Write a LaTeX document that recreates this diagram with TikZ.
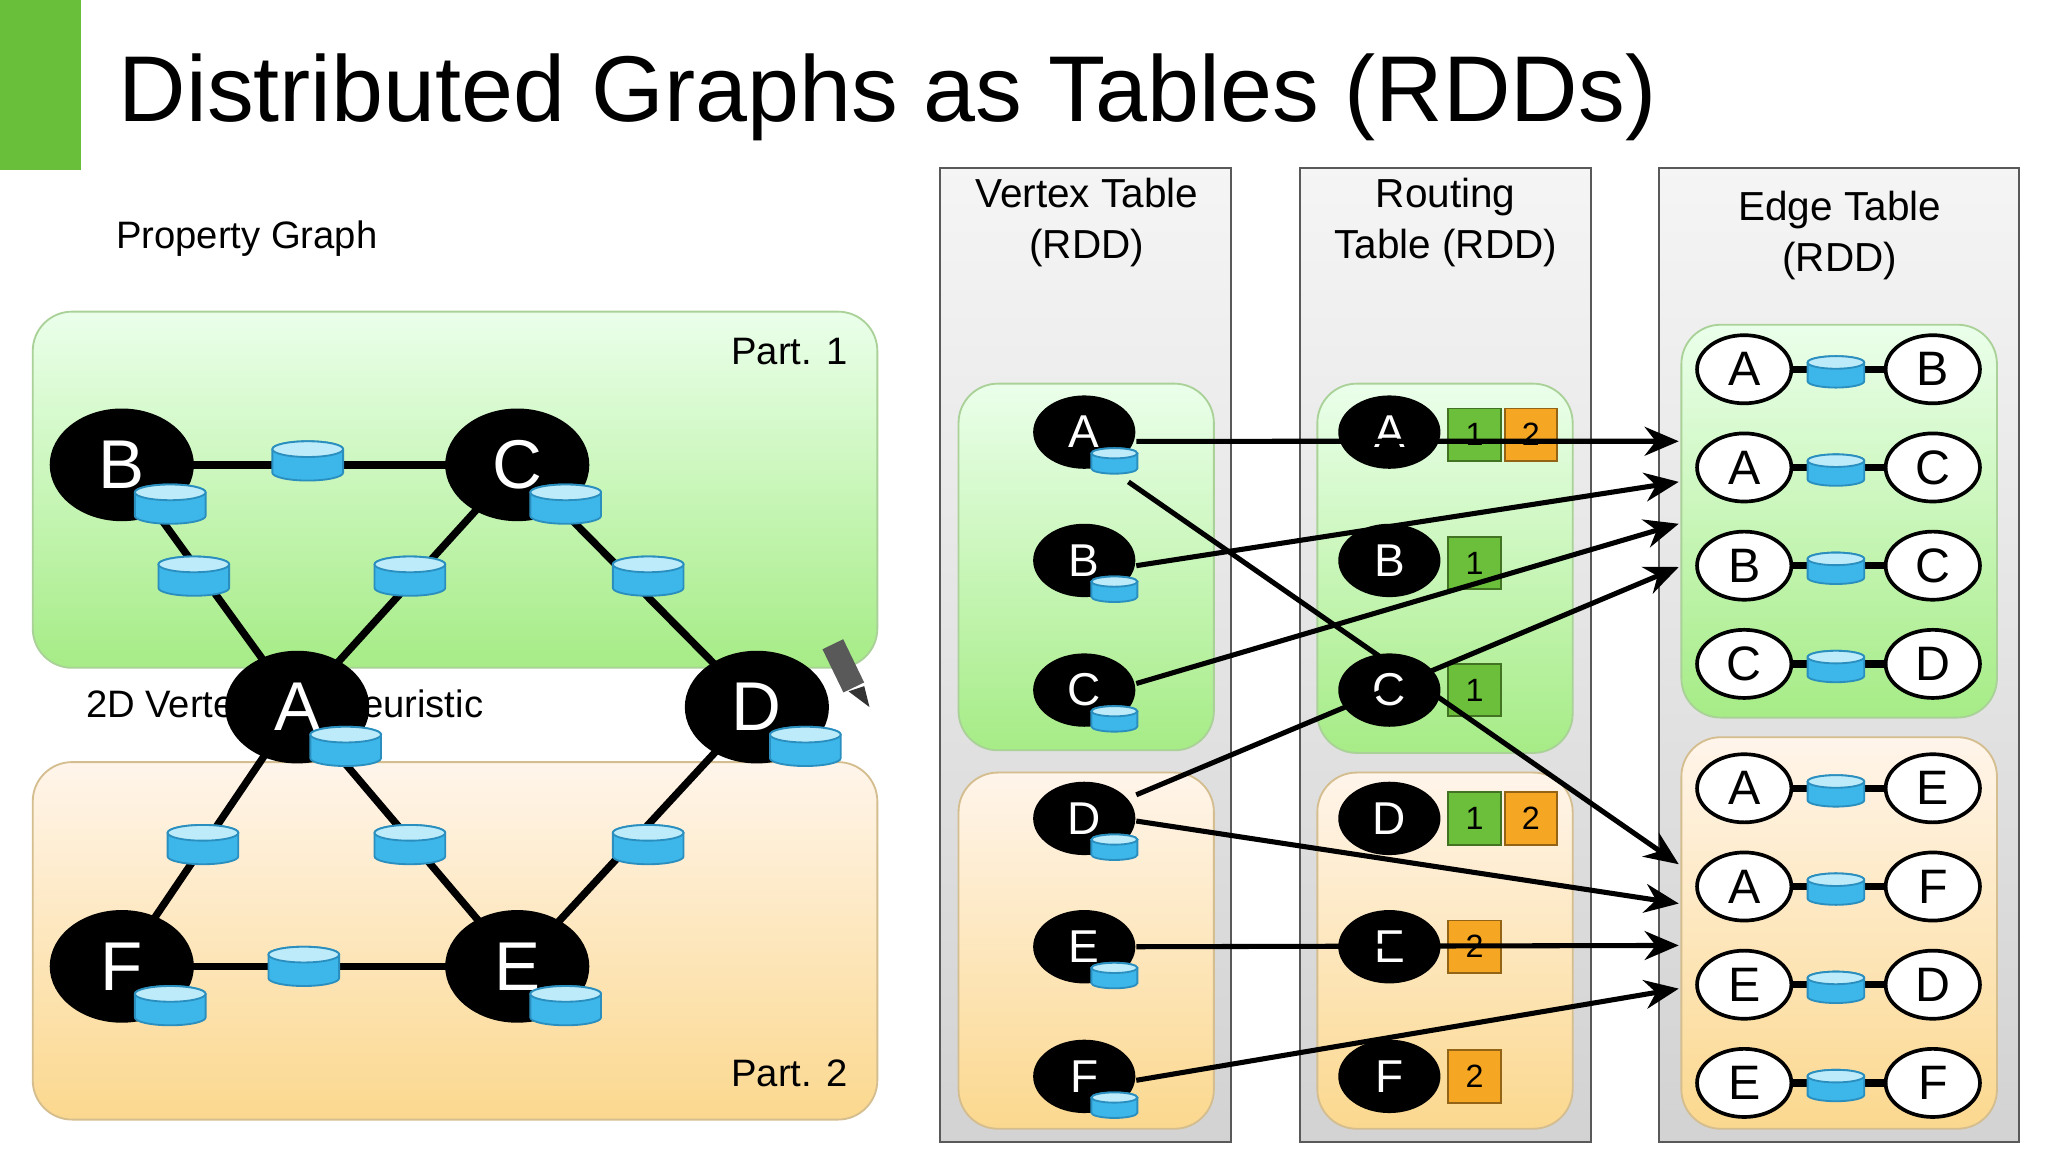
\documentclass[tikz,border=0pt]{standalone}
\usepackage{fontspec}
\setmainfont{Liberation Sans}
\usetikzlibrary{shapes.geometric, arrows.meta, calc}
\definecolor{slidegreen}{HTML}{6ABF3A}
\definecolor{dbtop}{HTML}{BDEBFA}
\definecolor{dbside}{HTML}{3DB6EA}
\definecolor{dbedge}{HTML}{2A8FBF}
\definecolor{pgreen}{HTML}{A6EC86}
\definecolor{porange}{HTML}{FBD88E}
\definecolor{sqgreen}{HTML}{6CBF3A}
\definecolor{sqorange}{HTML}{F5A623}
\tikzset{>={Stealth[width=2.2mm,length=2.6mm]}}
\tikzset{
  bigv/.style = {ellipse, fill=black, text=white, minimum width=1.1cm, minimum height=0.86cm, inner sep=0pt, font=\fontsize{15}{15}\selectfont},
  smallv/.style = {ellipse, fill=black, text=white, minimum width=0.78cm, minimum height=0.56cm, inner sep=0pt, font=\fontsize{10}{10}\selectfont},
  edgev/.style = {ellipse, draw=black, thick, fill=white, minimum width=0.72cm, minimum height=0.52cm, inner sep=0pt, font=\fontsize{10.5}{10.5}\selectfont},
  part1/.style = {rounded corners=0.3cm, draw=pgreen!80!black!70, shading=axis, top color=green!8!white, bottom color=pgreen},
  part2/.style = {rounded corners=0.3cm, draw=porange!80!black!80, shading=axis, top color=orange!8!white, bottom color=porange},
  column/.style = {draw=gray!70!black, shading=axis, top color=gray!8, bottom color=gray!35},
  head/.style = {align=center, font=\fontsize{8.8}{11}\selectfont},
  plain/.style = {anchor=base west, inner sep=0pt, font=\fontsize{8.3}{10}\selectfont},
  rsq/.style = {draw=#1!60!black, fill=#1, minimum size=0.4cm, inner sep=0pt, font=\fontsize{7}{7}\selectfont},
  link/.style = {line width=1.6pt},
  arr/.style = {->, line width=1.1pt},
  db/.pic = {
    \path[fill=dbside, draw=dbedge, thin] (-27,-9) -- (-27,9) arc[start angle=180, end angle=0, x radius=27, y radius=6] -- (27,-9) arc[start angle=0, end angle=-180, x radius=27, y radius=6] -- cycle;
    \path[fill=dbtop, draw=dbedge, thin] (0,-9) ellipse [x radius=27, y radius=6];
  }
}
\begin{document}
\begin{tikzpicture}[x=0.01cm, y=-0.01cm]
\useasboundingbox (0,0) rectangle (1564,880);

% title
\fill[slidegreen] (0,0) rectangle (62,130);
\node[anchor=base west, inner sep=0pt, font=\fontsize{20.3}{24}\selectfont] (title) at (90,93) {Distributed Graphs as Tables (RDDs)};

% property graph
\node[plain] (pglabel) at (88,190) {Property Graph};
\path[part1] (25,238) rectangle (670,510);
\path[part2] (25,582) rectangle (670,855);
\node[plain, anchor=base east] (p1) at (648,278) {Part. 1};
\node[plain, anchor=base east] (p2) at (648,830) {Part. 2};
\node[plain] (cut) at (65,548) {2D Vertex Cut Heuristic};

\coordinate (gB) at (93,355);  \coordinate (gC) at (395,355);
\coordinate (gA) at (227,540); \coordinate (gD) at (578,540);
\coordinate (gF) at (93,738);  \coordinate (gE) at (395,738);
\foreach \a/\b in {gB/gC, gB/gA, gC/gA, gC/gD, gA/gF, gA/gE, gD/gE, gF/gE}
  \draw[link] (\a) -- (\b);
\foreach \px/\py in {235/352, 148/440, 313/440, 495/440, 155/645, 313/645, 495/645, 232/738}
  \pic at (\px,\py) {db};
\foreach \v in {B, C, A, D, F, E} {
  \node[bigv] (n\v) at (g\v) {\v};
  \pic at ($(g\v)+(37,30)$) {db};
}
% pen
\draw[line width=5pt, gray!70!black] (636,492) -- (652,525);
\fill[gray!40!black] (648,528) -- (660,524) -- (664,540) -- cycle;

% columns
\path[column] (718,128) rectangle (940,872);
\path[column] (993,128) rectangle (1215,872);
\path[column] (1267,128) rectangle (1542,872);
\node[head] (hv) at (830,170) {Vertex Table\\(RDD)};
\node[head] (hr) at (1104,170) {Routing\\Table (RDD)};
\node[head] (he) at (1405,180) {Edge Table\\(RDD)};

\path[part1] (732,293) rectangle (927,573);
\path[part2] (732,590) rectangle (927,862);
\path[part1] (1006,293) rectangle (1201,575);
\path[part2] (1006,590) rectangle (1201,862);
\path[part1] (1284,248) rectangle (1525,548);
\path[part2] (1284,563) rectangle (1525,862);

% vertex and routing tables
\foreach \v/\y in {A/330, B/428, C/527, D/625, E/723, F/822} {
  \node[smallv] (v\v) at (828,\y) {\v};
  \pic[scale=0.65] at (851,\y+22) {db};
  \node[smallv] (r\v) at (1061,\y) {\v};
}
\node[rsq=sqgreen]  (rA1) at (1126,332) {1};
\node[rsq=sqorange] (rA2) at (1169,332) {2};
\node[rsq=sqgreen]  (rB1) at (1126,430) {1};
\node[rsq=sqgreen]  (rC1) at (1126,527) {1};
\node[rsq=sqgreen]  (rD1) at (1126,625) {1};
\node[rsq=sqorange] (rD2) at (1169,625) {2};
\node[rsq=sqorange] (rE2) at (1126,723) {2};
\node[rsq=sqorange] (rF2) at (1126,822) {2};

% edge table
\foreach \s/\t/\y [count=\i] in {A/B/282, A/C/357, B/C/432, C/D/507, A/E/602, A/F/677, E/D/752, E/F/827} {
  \node[edgev] (es\i) at (1332,\y) {\s};
  \node[edgev] (et\i) at (1476,\y) {\t};
  \draw[link] (es\i) -- (et\i);
  \pic[scale=0.8] at (1402,\y+2) {db};
}

% shipping vertices to edges
\coordinate (in1) at (1282,337); \coordinate (in2) at (1282,368);
\coordinate (in3) at (1282,400); \coordinate (in4) at (1282,433);
\coordinate (in5) at (1282,660); \coordinate (in6) at (1282,690);
\coordinate (in7) at (1282,722); \coordinate (in8) at (1282,755);
\draw[arr] ([yshift=-0.07cm]vA.east) -- (in1);
\draw[arr] ([xshift=-0.06cm,yshift=-0.38cm]vA.east) -- (in5);
\draw[arr] ([yshift=-0.04cm]vB.east) -- (in2);
\draw[arr] ([yshift=0.05cm]vC.east) -- (in3);
\draw[arr] ([yshift=0.18cm]vD.east) -- (in4);
\draw[arr] ([yshift=-0.02cm]vD.east) -- (in6);
\draw[arr] (vE.east) -- (in7);
\draw[arr] ([yshift=-0.03cm]vF.east) -- (in8);
\end{tikzpicture}
\end{document}
